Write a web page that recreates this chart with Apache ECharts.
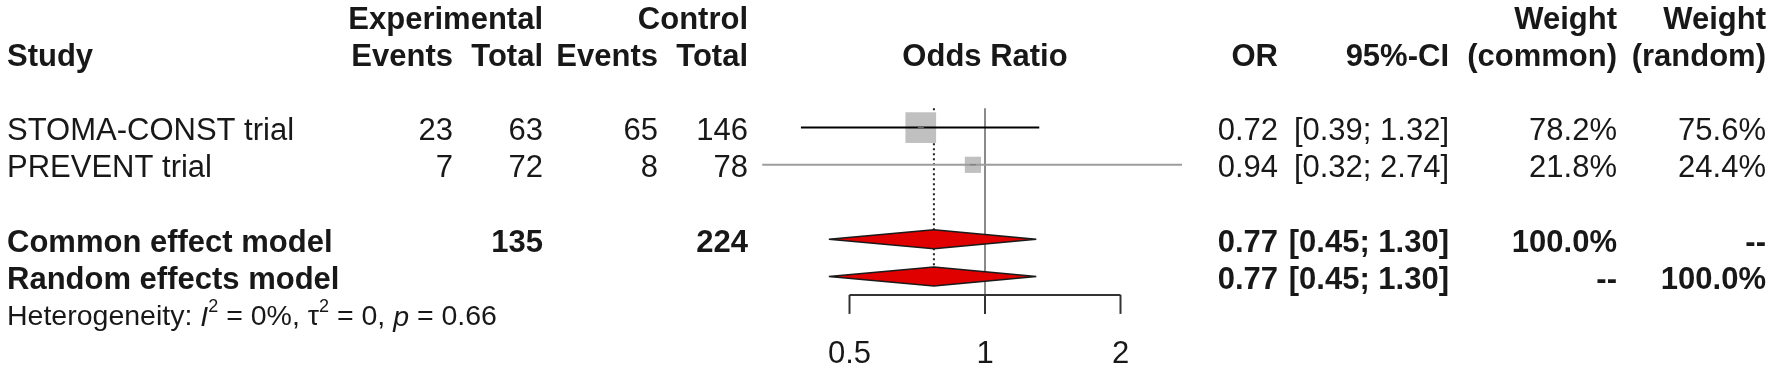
<!DOCTYPE html>
<html>
<head>
<meta charset="utf-8">
<script src="https://cdn.jsdelivr.net/npm/echarts@6/dist/echarts.min.js"></script>
<style>
html,body{margin:0;padding:0;background:#ffffff;}
#chart{width:1772px;height:369px;}
</style>
</head>
<body>
<div id="chart"></div>
<script>
// ---------------- DATA ----------------
const studies = ['STOMA-CONST trial', 'PREVENT trial'];
const expEvents = [23, 7];
const expTotal = [63, 72];
const ctrlEvents = [65, 8];
const ctrlTotal = [146, 78];
const orValues = [0.72, 0.94];
const ciLower = [0.39, 0.32];
const ciUpper = [1.32, 2.74];
const weightCommon = [78.2, 21.8];
const weightRandom = [75.6, 24.4];

const pooledModels = ['Common effect model', 'Random effects model'];
const pooledOR = [0.77, 0.77];
const pooledLower = [0.45, 0.45];
const pooledUpper = [1.30, 1.30];
const pooledWeightCommon = ['100.0%', '--'];
const pooledWeightRandom = ['--', '100.0%'];
const pooledExpTotal = 135;
const pooledCtrlTotal = 224;

const tickValues = [0.5, 1, 2];
const tickLabels = ['0.5', '1', '2'];
const hetI2 = '0%';
const hetTau2 = '0';
const hetP = '0.66';

// ---------------- LAYOUT / STYLE ----------------
const FONT = '"Liberation Sans", Arial, Helvetica, sans-serif';
const TXT = '#181818';
const FS = 31;
const studyRows = [3, 4];
const pooledRows = [6, 7];
const hetRow = 8;
const topRow = 2.37;     // top of reference / pooled lines
const axisRow = 7.39;    // x-axis line
const markShift = -4;    // graphics sit slightly above text centres
const tickLen = 19;
const labelOffset = 60;
const COL = {study: 7, expEv: 453, expTot: 543, ctlEv: 658, ctlTot: 748, or: 1278, ci: 1449, wc: 1617, wr: 1766};
const ciColors = ['#000000', '#9c9c9c'];
const squareColor = '#c0c0c0';
const squareScale = 3.47;
const diamondHalfH = 9.5;

function fmtCI(lo, hi) { return '[' + lo.toFixed(2) + '; ' + hi.toFixed(2) + ']'; }

// text items
const texts = [];
function T(row, x, text, align, bold, extra) {
  texts.push(Object.assign({row: row, x: x, text: String(text), align: align, bold: !!bold}, extra || {}));
}
T(0, COL.expTot, 'Experimental', 'right', true);
T(0, COL.ctlTot, 'Control', 'right', true);
T(0, COL.wc, 'Weight', 'right', true);
T(0, COL.wr, 'Weight', 'right', true);
T(1, COL.study, 'Study', 'left', true);
T(1, COL.expEv, 'Events', 'right', true);
T(1, COL.expTot, 'Total', 'right', true);
T(1, COL.ctlEv, 'Events', 'right', true);
T(1, COL.ctlTot, 'Total', 'right', true);
T(1, null, 'Odds Ratio', 'center', true, {xVal: 1});
T(1, COL.or, 'OR', 'right', true);
T(1, COL.ci, '95%-CI', 'right', true);
T(1, COL.wc, '(common)', 'right', true);
T(1, COL.wr, '(random)', 'right', true);
studies.forEach(function (s, i) {
  const r = studyRows[i];
  T(r, COL.study, s, 'left', false);
  T(r, COL.expEv, expEvents[i], 'right', false);
  T(r, COL.expTot, expTotal[i], 'right', false);
  T(r, COL.ctlEv, ctrlEvents[i], 'right', false);
  T(r, COL.ctlTot, ctrlTotal[i], 'right', false);
  T(r, COL.or, orValues[i].toFixed(2), 'right', false);
  T(r, COL.ci, fmtCI(ciLower[i], ciUpper[i]), 'right', false);
  T(r, COL.wc, weightCommon[i].toFixed(1) + '%', 'right', false);
  T(r, COL.wr, weightRandom[i].toFixed(1) + '%', 'right', false);
});
pooledModels.forEach(function (m, i) {
  const r = pooledRows[i];
  T(r, COL.study, m, 'left', true);
  if (i === 0) {
    T(r, COL.expTot, pooledExpTotal, 'right', true);
    T(r, COL.ctlTot, pooledCtrlTotal, 'right', true);
  }
  T(r, COL.or, pooledOR[i].toFixed(2), 'right', true);
  T(r, COL.ci, fmtCI(pooledLower[i], pooledUpper[i]), 'right', true);
  T(r, COL.wc, pooledWeightCommon[i], 'right', true);
  T(r, COL.wr, pooledWeightRandom[i], 'right', true);
});
T(hetRow, COL.study,
  '{n|Heterogeneity: }{i|I}{s|2}{n| = ' + hetI2 + ', \u03c4}{s|2}{n| = ' + hetTau2 + ', }{i|p}{n| = ' + hetP + '}',
  'left', false, {rich: true});

// ---------------- CHART ----------------
const chart = echarts.init(document.getElementById('chart'), null, {renderer: 'canvas'});

function textEl(x, y, t) {
  const style = {
    x: x, y: y, text: t.text,
    fill: TXT,
    font: (t.bold ? 'bold ' : '') + FS + 'px ' + FONT,
    align: t.align, textAlign: t.align,
    verticalAlign: 'middle', textVerticalAlign: 'middle'
  };
  if (t.rich) {
    style.font = '28.5px ' + FONT;
    style.rich = {
      n: {fontSize: 28.5, fontFamily: FONT, fill: TXT, color: TXT, lineHeight: 40},
      i: {fontSize: 28.5, fontFamily: FONT, fontStyle: 'italic', fill: TXT, color: TXT, lineHeight: 40},
      s: {fontSize: 18, fontFamily: FONT, fill: TXT, color: TXT, verticalAlign: 'top', lineHeight: 18}
    };
  }
  return {type: 'text', style: style, z2: 10};
}

const option = {
  animation: false,
  backgroundColor: '#ffffff',
  grid: {left: 714, width: 542, top: 20, height: 334.8, containLabel: false},
  xAxis: {type: 'log', logBase: 2, min: 0.25, max: 4, show: false},
  yAxis: {type: 'value', inverse: true, min: 0, max: 9, show: false},
  series: [
    // reference line at OR = 1 and pooled-estimate dotted line
    {
      type: 'custom', clip: false, z: 1,
      data: [[1, topRow, 0], [pooledOR[1], topRow, 1]],
      renderItem: function (params, api) {
        const v = api.value(0);
        const top = api.coord([v, topRow]);
        if (api.value(2) === 0) {
          const bot = api.coord([v, axisRow]);
          return {type: 'line', shape: {x1: top[0], y1: top[1], x2: bot[0], y2: bot[1] + tickLen},
            style: {stroke: '#8a8a8a', lineWidth: 2}};
        }
        const bot = api.coord([v, pooledRows[1]]);
        return {type: 'line', shape: {x1: top[0], y1: top[1], x2: bot[0], y2: bot[1] + markShift},
          style: {stroke: '#222222', lineWidth: 2, lineDash: [2, 3]}};
      }
    },
    // study CIs and squares
    {
      type: 'custom', clip: false, z: 2,
      data: studies.map(function (s, i) { return [orValues[i], studyRows[i], ciLower[i], ciUpper[i], weightCommon[i], i]; }),
      renderItem: function (params, api) {
        const est = api.value(0), row = api.value(1), lo = api.value(2), hi = api.value(3), w = api.value(4), idx = api.value(5);
        const pE = api.coord([est, row]), pL = api.coord([lo, row]), pH = api.coord([hi, row]);
        const y = pE[1] + markShift;
        const side = squareScale * Math.sqrt(w);
        return {type: 'group', children: [
          {type: 'rect', shape: {x: pE[0] - side / 2, y: y - side / 2, width: side, height: side},
            style: {fill: squareColor}},
          {type: 'line', shape: {x1: pL[0], y1: y, x2: pH[0], y2: y},
            style: {stroke: ciColors[idx], lineWidth: 2}},
          {type: 'line', shape: {x1: pE[0] - 3, y1: y, x2: pE[0] + 3, y2: y},
            style: {stroke: '#777777', lineWidth: 1}}
        ]};
      }
    },
    // pooled diamonds
    {
      type: 'custom', clip: false, z: 3,
      data: pooledModels.map(function (m, i) { return [pooledOR[i], pooledRows[i], pooledLower[i], pooledUpper[i]]; }),
      renderItem: function (params, api) {
        const est = api.value(0), row = api.value(1), lo = api.value(2), hi = api.value(3);
        const pE = api.coord([est, row]), pL = api.coord([lo, row]), pH = api.coord([hi, row]);
        const y = pE[1] + markShift;
        return {type: 'polygon', shape: {points: [
          [pL[0], y], [pE[0], y - diamondHalfH], [pH[0], y], [pE[0], y + diamondHalfH]
        ]}, style: {fill: '#e00000', stroke: '#1a1a1a', lineWidth: 1.5}};
      }
    },
    // x axis line
    {
      type: 'custom', clip: false, z: 2,
      data: [[tickValues[0], axisRow, tickValues[tickValues.length - 1]]],
      renderItem: function (params, api) {
        const a = api.coord([api.value(0), axisRow]), b = api.coord([api.value(2), axisRow]);
        return {type: 'line', shape: {x1: a[0], y1: a[1], x2: b[0], y2: b[1]},
          style: {stroke: '#333333', lineWidth: 2}};
      }
    },
    // ticks and tick labels
    {
      type: 'custom', clip: false, z: 2,
      data: tickValues.map(function (v, i) { return [v, axisRow, i]; }),
      renderItem: function (params, api) {
        const p = api.coord([api.value(0), axisRow]);
        const lab = tickLabels[api.value(2)];
        return {type: 'group', children: [
          {type: 'line', shape: {x1: p[0], y1: p[1], x2: p[0], y2: p[1] + tickLen},
            style: {stroke: '#333333', lineWidth: 2}},
          textEl(p[0], p[1] + labelOffset, {text: lab, align: 'center', bold: false})
        ]};
      }
    },
    // table text
    {
      type: 'custom', clip: false, z: 5,
      data: texts.map(function (t, i) { return [1, t.row, i]; }),
      renderItem: function (params, api) {
        const t = texts[api.value(2)];
        const y = api.coord([1, t.row])[1];
        const x = (t.xVal !== undefined) ? api.coord([t.xVal, t.row])[0] : t.x;
        return textEl(x, y, t);
      }
    }
  ]
};
chart.setOption(option);
</script>
</body>
</html>
